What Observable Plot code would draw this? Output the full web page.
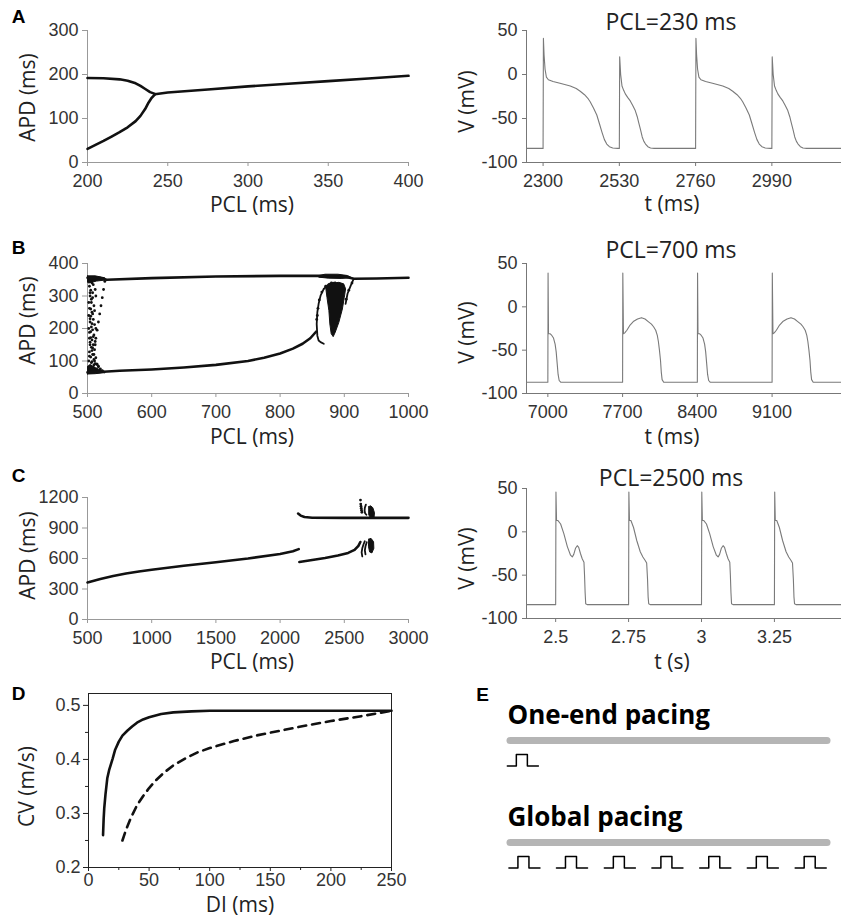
<!DOCTYPE html>
<html><head><meta charset="utf-8">
<script src="https://cdn.jsdelivr.net/npm/d3@7"></script>
<script src="https://cdn.jsdelivr.net/npm/@observablehq/plot@0.6"></script>
<style>
html,body{margin:0;padding:0;background:#fff;}
#fig{position:relative;width:841px;height:921px;overflow:hidden;background:#fff;}
#fig svg{position:absolute;}
</style></head><body><div id="fig"></div>
<script>
// ===================== DATA =====================
// Panel A (left): APD restitution bifurcation, PCL (ms) vs APD (ms)
const aXTicks = [200, 250, 300, 350, 400];
const aYTicks = [0, 100, 200, 300];
const aUpper = [[200,192],[210,191.5],[220,189],[225,186],[230,180],[233,174],[236,167],[239,160],[242,156]];
const aLower = [[200,31],[205,40],[210,49],[215,59],[220,69],[225,80],[230,94],[233,106],[236,122],[238,136],[240,147],[242,155]];
const aMain  = [[242,155],[250,159],[275,166],[300,173],[325,179],[350,185],[375,191],[400,197]];

// Panel B (left)
const bXTicks = [500, 600, 700, 800, 900, 1000];
const bYTicks = [0, 100, 200, 300, 400];
const bUpper = [[500,356],[520,355],[530,350],[600,355],[700,360],[800,362],[860,362],[900,360],[915,353],[950,354],[1000,356]];
const bLower = [[500,65],[525,67],[550,70],[600,74],[650,80],[700,88],[750,100],[775,110],[800,123],[820,138],[835,153],[847,170],[856,190]];
const bOvalLeft = [[868,322],[863,301],[860,276],[858,250],[857,214],[858,178],[860,163],[863,158],[868,153]];
const bOvalTop = [[868,322],[876,337],[886,342]];
const bRightDiag = [[902,276],[905,307],[910,332],[914,350]];
const bTear = [[871,327],[878.5,339],[891.5,342],[899,337.5],[902,322],[900,296],[897,260],[891.5,219],[886,189],[882.7,175],[879.6,184],[877.5,214],[876,255],[873,296],[871,327]];
const bTopBlob = [[858,362],[870,367],[890,367],[905,363],[912,356],[895,354],[875,355],[860,358],[858,362]];
const bLeftTopBlob = [[500,362],[512,362],[527,356],[527,349],[514,346],[502,340],[500,342],[500,362]];
const bLeftBotBlob = [[500,60],[512,61],[525,64],[525,70],[515,76],[505,88],[500,84],[500,60]];
const bChaos = [[503,330],[505,318],[507,340],[504,300],[508,295],[506,280],[510,270],[503,262],[507,250],[505,238],[509,228],[504,220],[511,212],[506,205],[508,196],[503,188],[510,180],[505,172],[507,165],[504,158],[509,150],[506,142],[511,135],[503,128],[508,120],[505,112],[510,105],[507,98],[512,92],[504,86],[509,80],[514,76],[506,74],[513,110],[512,160],[513,200],[502,240],[511,255],[513,300],[512,320],[503,345],[509,335],[515,90],[517,84],[502,100],[502,200],[510,120],[508,140],[504,310],[506,290],[505,260],[508,245],[504,230],[507,215],[505,190],[509,175],[504,150],[507,132],[503,115],[506,95],[510,88],[508,310],[502,280],[503,170]];
const bDiagDots = [[527,345],[525,320],[523,295],[521,270],[519,245],[517,220],[515,195],[513,170],[512,150],[511,100],[514,90],[517,82],[520,76],[523,70],[526,66]];
const bOvalDots = [[858,240],[857,228],[859,262],[861,288],[865,312],[871,330],[880,340],[903,290],[907,318],[912,340]];

// Panel C (left)
const cXTicks = [500, 1000, 1500, 2000, 2500, 3000];
const cYTicks = [0, 300, 600, 900, 1200];
const cMain = [[500,365],[600,398],[700,427],[800,452],[900,472],[1000,489],[1250,528],[1500,563],[1750,600],[2000,645],[2100,672],[2145,692]];
const cLow2 = [[2150,565],[2250,585],[2350,605],[2450,630],[2530,655],[2580,685],[2610,725],[2625,762]];
const cUp2 = [[2140,1042],[2160,1022],[2190,1008],[2250,1001],[2500,1000],[2750,1000],[3000,1000]];
const cArcL1 = [[2640,620],[2635,660],[2640,700],[2650,740],[2660,770]];
const cArcL2 = [[2665,640],[2660,680],[2665,720],[2675,760]];
const cArcU = [[2672,1030],[2662,1045],[2658,1070],[2660,1100],[2668,1130]];
const cDotsU = [[2626,1175],[2628,1135],[2630,1115],[2632,1095],[2634,1075],[2637,1055]];
const cBlobU = [[2690,1110],[2705,1118],[2722,1100],[2735,1050],[2732,1008],[2705,1000],[2690,1030],[2690,1110]];
const cBlobL = [[2690,790],[2708,798],[2728,765],[2730,700],[2715,655],[2697,665],[2688,720],[2690,790]];

// Right column: action potential traces, V (mV)
const vTicks = [-100, -50, 0, 50];
// PCL = 230 ms
const apAXTicks = [2300, 2530, 2760, 2990];
const apAOnsets = [2300, 2530, 2760, 2990];
const apALong = [[0,-84],[1,41],[3,22],[6,6],[10,-3],[16,-6],[30,-8],[51,-10],[82,-13],[100,-16],[112,-19],[125,-23],[135,-27],[142,-31],[152,-38],[162,-46],[170,-56],[178,-66],[185,-74],[192,-79],[200,-82],[210,-83.5],[225,-84]];
const apAShort = [[0,-84],[1,20],[4,0],[8,-13],[13,-18],[18,-22],[25,-26],[33,-30],[40,-35],[48,-41],[54,-48],[58,-54],[64,-63],[69,-71],[74,-76],[79,-79],[86,-82],[94,-83.5],[105,-84]];
// PCL = 700 ms
const apBXTicks = [7000, 7700, 8400, 9100];
const apBOnsets = [7000, 7700, 8400, 9100];
const apBShort = [[0,-87],[2,39],[6,-31],[20,-31],[37,-33],[53,-36],[68,-43],[78,-52],[87,-65],[96,-78],[106,-85],[120,-87]];
const apBLong = [[0,-87],[2,39],[8,-31],[20,-30],[40,-27],[70,-21],[100,-17],[140,-14],[177,-12.5],[210,-14],[240,-17],[270,-20],[290,-23],[310,-27],[325,-33],[335,-40],[345,-50],[355,-62],[362,-75],[370,-84],[385,-87]];
// PCL = 2500 ms (time in s)
const apCXTicks = [2.5, 2.75, 3, 3.25];
const apCOnsets = [2.5, 2.75, 3.0, 3.25];
const apCLong = [[0,-84],[0.001,46],[0.003,13],[0.008,13],[0.017,9],[0.028,-2],[0.04,-17],[0.051,-27],[0.057,-29],[0.062,-26],[0.068,-19],[0.074,-16],[0.079,-18],[0.085,-25],[0.091,-31],[0.097,-35],[0.099,-50],[0.101,-70],[0.103,-83],[0.108,-84]];
const apCShort = [[0,-84],[0.001,46],[0.003,13],[0.008,13],[0.017,5],[0.028,-10],[0.04,-23],[0.049,-29],[0.057,-33],[0.062,-36],[0.065,-55],[0.067,-75],[0.069,-83],[0.074,-84]];

// Panel D: CV restitution
const dXTicks = [0, 50, 100, 150, 200, 250];
const dXMinor = [25, 75, 125, 175, 225];
const dYTicks = [0.2, 0.3, 0.4, 0.5];
const dYMinor = [0.25, 0.35, 0.45];
const dSolid = [[12,0.26],[12.5,0.29],[13,0.31],[14,0.335],[15.5,0.365],[17,0.38],[20,0.402],[22,0.418],[25,0.433],[28,0.444],[32,0.453],[36,0.461],[40,0.468],[45,0.474],[50,0.478],[60,0.484],[70,0.487],[85,0.489],[100,0.49],[150,0.49],[200,0.49],[250,0.49]];
const dDashed = [[28,0.25],[31,0.27],[35,0.292],[40,0.315],[45,0.332],[50,0.347],[55,0.36],[62,0.375],[70,0.389],[80,0.402],[90,0.413],[100,0.421],[120,0.434],[140,0.445],[160,0.454],[180,0.463],[200,0.471],[225,0.48],[250,0.49]];

// Panel E: pacing schematic
const eRows = ["One-end pacing", "Global pacing"];
const eOnsets = [[-0.01], [-0.005, 0.145, 0.296, 0.446, 0.597, 0.747, 0.898]];
const pulseShape = [[0,0],[0.29,0],[0.29,1],[0.645,1],[0.645,0],[1,0]];

// ===================== LAYOUT / STYLE =====================
const fig = document.getElementById("fig");
const TICK_FONT = "'Liberation Sans', Arial, sans-serif";
const LABEL_FONT = "'Open Sans', 'Noto Sans', sans-serif";
const baseStyle = {fontFamily: TICK_FONT, fontSize: "18px", color: "#333", background: "transparent", overflow: "visible"};
const fmt = d => String(d);
const INK = "#111";
const LBL = 21;

function place(svg, left, top) {
  svg.style.left = left + "px";
  svg.style.top = top + "px";
  fig.appendChild(svg);
}
function label(txt, o) {
  return Plot.text([txt], {text: d => d, textAnchor: "middle", lineAnchor: "middle", fontFamily: LABEL_FONT, fill: "#222", ...o});
}
function letter(txt, dx, dy) {
  return Plot.text([txt], {text: d => d, frameAnchor: "top-left", dx, dy, textAnchor: "middle", lineAnchor: "middle", fontFamily: TICK_FONT, fontWeight: "bold", fontSize: 19, fill: "#000"});
}
function buildTrace(start, end, onsets, shapes) {
  const pts = [[start, shapes[0][0][1]]];
  onsets.forEach((t0, i) => shapes[i].forEach(([dt, v]) => pts.push([t0 + dt, v])));
  pts.push([end, shapes[shapes.length - 1][shapes[shapes.length - 1].length - 1][1]]);
  return pts;
}

function bifPanel(o) {
  const H = o.height, mt = o.mt, mb = H - o.bottom;
  return Plot.plot({
    width: 420, height: H, marginLeft: 87, marginRight: 12, marginTop: mt, marginBottom: mb,
    x: {domain: o.xDomain}, y: {domain: o.yDomain},
    style: baseStyle,
    marks: [
      Plot.ruleX([o.xDomain[0]], {stroke: "#999"}),
      Plot.ruleY([o.yDomain[0]], {stroke: "#999"}),
      Plot.axisX({ticks: o.xTicks, tickFormat: fmt, tickSize: 4, tickPadding: 8, label: null, stroke: "#999"}),
      Plot.axisY({ticks: o.yTicks, tickFormat: fmt, tickSize: 5, tickPadding: 4, label: null, stroke: "#999"}),
      ...(o.polys || []).map(p => Plot.line(p, {fill: INK, stroke: INK, strokeWidth: 1})),
      ...(o.thin || []).map(p => Plot.line(p, {stroke: INK, strokeWidth: 1.8})),
      ...o.lines.map(l => Plot.line(l, {stroke: INK, strokeWidth: 2.6})),
      ...(o.dots || []).map(d => Plot.dot(d, {r: 1.4, fill: INK})),
      label("PCL (ms)", {frameAnchor: "bottom", dx: 4, dy: o.xLabelDy, fontSize: LBL}),
      label("APD (ms)", {frameAnchor: "left", dx: -59, dy: o.yLabelDy, rotate: -90, fontSize: LBL}),
      letter(o.letter, 18 - 87, o.letterY - mt)
    ]
  });
}

function apPanel(o) {
  const H = o.height, mt = o.mt, mb = H - o.bottom;
  return Plot.plot({
    width: 421, height: H, marginLeft: 106, marginRight: 0, marginTop: mt, marginBottom: mb,
    x: {domain: o.xDomain}, y: {domain: [-100, 50]},
    style: baseStyle,
    marks: [
      Plot.ruleX([o.xDomain[0]], {stroke: "#777"}),
      Plot.ruleY([-100], {stroke: "#777"}),
      Plot.axisX({ticks: o.xTicks, tickFormat: fmt, tickSize: 4, tickPadding: 8, label: null, stroke: "#777"}),
      Plot.axisY({ticks: vTicks, tickFormat: fmt, tickSize: 4, tickPadding: 5, label: null, stroke: "#777"}),
      Plot.line(o.trace, {stroke: "#7a7a7a", strokeWidth: 1.1}),
      label(o.title, {frameAnchor: "top", dx: -13, dy: o.titleDy, fontSize: 23}),
      label(o.xLabel, {frameAnchor: "bottom", dx: -12, dy: o.xLabelDy, fontSize: LBL}),
      label("V (mV)", {frameAnchor: "left", dx: -59, dy: o.yLabelDy, rotate: -90, fontSize: LBL})
    ]
  });
}

// Row A
place(bifPanel({height: 220, mt: 30, bottom: 162, xDomain: [200, 400], yDomain: [0, 300],
  xTicks: aXTicks, yTicks: aYTicks, lines: [aUpper, aLower, aMain],
  xLabelDy: 43, yLabelDy: 1, letter: "A", letterY: 16}), 0, 0);
place(apPanel({height: 220, mt: 30, bottom: 162, xDomain: [2250, 3200], xTicks: apAXTicks,
  trace: buildTrace(2250, 3200, apAOnsets, [apALong, apAShort, apALong, apAShort]),
  title: "PCL=230 ms", titleDy: -8, xLabel: "t (ms)", xLabelDy: 42, yLabelDy: 5}), 420, 0);

// Row B
place(bifPanel({height: 220, mt: 43, bottom: 173, xDomain: [500, 1000], yDomain: [0, 400],
  xTicks: bXTicks, yTicks: bYTicks, lines: [bUpper, bLower],
  polys: [bTear, bTopBlob, bLeftTopBlob, bLeftBotBlob],
  thin: [bOvalLeft, bOvalTop, bRightDiag],
  dots: [bChaos, bDiagDots, bOvalDots],
  xLabelDy: 44, yLabelDy: -8, letter: "B", letterY: 247 - 220}), 0, 220);
place(apPanel({height: 220, mt: 43, bottom: 173, xDomain: [6800, 9750], xTicks: apBXTicks,
  trace: buildTrace(6800, 9750, apBOnsets, [apBShort, apBLong, apBShort, apBLong]),
  title: "PCL=700 ms", titleDy: -13, xLabel: "t (ms)", xLabelDy: 44, yLabelDy: 4}), 420, 220);

// Row C
place(bifPanel({height: 225, mt: 57, bottom: 179, xDomain: [500, 3000], yDomain: [0, 1200],
  xTicks: cXTicks, yTicks: cYTicks, lines: [cMain, cLow2, cUp2],
  polys: [cBlobU, cBlobL], thin: [cArcL1, cArcL2, cArcU], dots: [cDotsU],
  xLabelDy: 43, yLabelDy: -3, letter: "C", letterY: 475 - 440}), 0, 440);
place(apPanel({height: 225, mt: 48, bottom: 178, xDomain: [2.4, 3.48], xTicks: apCXTicks,
  trace: buildTrace(2.4, 3.48, apCOnsets, [apCLong, apCShort, apCLong, apCShort]),
  title: "PCL=2500 ms", titleDy: -10, xLabel: "t (s)", xLabelDy: 44, yLabelDy: 5}), 420, 440);

// Row D
place(Plot.plot({
  width: 420, height: 256, marginLeft: 88, marginRight: 29, marginTop: 28, marginBottom: 54,
  x: {domain: [0, 250]}, y: {domain: [0.2, 0.522]},
  style: baseStyle,
  marks: [
    Plot.frame({stroke: "#222"}),
    Plot.axisX({ticks: dXTicks, tickFormat: fmt, tickSize: 4, tickPadding: 2, label: null, stroke: "#222"}),
    Plot.axisX({ticks: dXMinor, tickFormat: () => "", tickSize: 3, label: null, stroke: "#222"}),
    Plot.axisY({ticks: dYTicks, tickFormat: fmt, tickSize: 5, tickPadding: 3, label: null, stroke: "#222"}),
    Plot.axisY({ticks: dYMinor, tickFormat: () => "", tickSize: 3, label: null, stroke: "#222"}),
    Plot.line(dSolid, {stroke: INK, strokeWidth: 2.6}),
    Plot.line(dDashed, {stroke: INK, strokeWidth: 2.6, strokeDasharray: "8,6"}),
    label("DI (ms)", {frameAnchor: "bottom", dx: 0, dy: 38, fontSize: LBL}),
    label("CV (m/s)", {frameAnchor: "left", dx: -61, dy: 6, rotate: -90, fontSize: LBL}),
    letter("D", 18 - 88, 693 - 665 - 28)
  ]
}), 0, 665);

// Panel E
const PULSE_W = 0.098, PULSE_BASE = 0.25, PULSE_AMP = 0.113;
const pulses = [];
eOnsets.forEach((ons, row) => ons.forEach((x0, k) => pulseShape.forEach(([u, lvl]) =>
  pulses.push({x: x0 + u * PULSE_W, y: row + PULSE_BASE - lvl * PULSE_AMP, id: row + "-" + k}))));
place(Plot.plot({
  width: 421, height: 256, margin: 0,
  x: {domain: [0, 1], range: [90, 407], axis: null},
  y: {domain: [0, 1], range: [75, 177], axis: null},
  style: baseStyle,
  marks: [
    Plot.ruleY(eRows, {y: (d, i) => i, x1: 0, x2: 1, stroke: "#b5b5b5", strokeWidth: 7, strokeLinecap: "round"}),
    Plot.text(eRows, {text: d => d, x: 0, y: (d, i) => i, dx: -3, dy: -25, textAnchor: "start", lineAnchor: "middle",
      fontFamily: LABEL_FONT, fontWeight: "bold", fontSize: 26, fill: "#000"}),
    Plot.line(pulses, {x: "x", y: "y", z: "id", stroke: "#000", strokeWidth: 1.5}),
    Plot.text(["E"], {text: d => d, frameAnchor: "top-left", dx: 62, dy: 29, textAnchor: "middle", lineAnchor: "middle",
      fontFamily: TICK_FONT, fontWeight: "bold", fontSize: 19, fill: "#000"})
  ]
}), 420, 665);
</script></body></html>
